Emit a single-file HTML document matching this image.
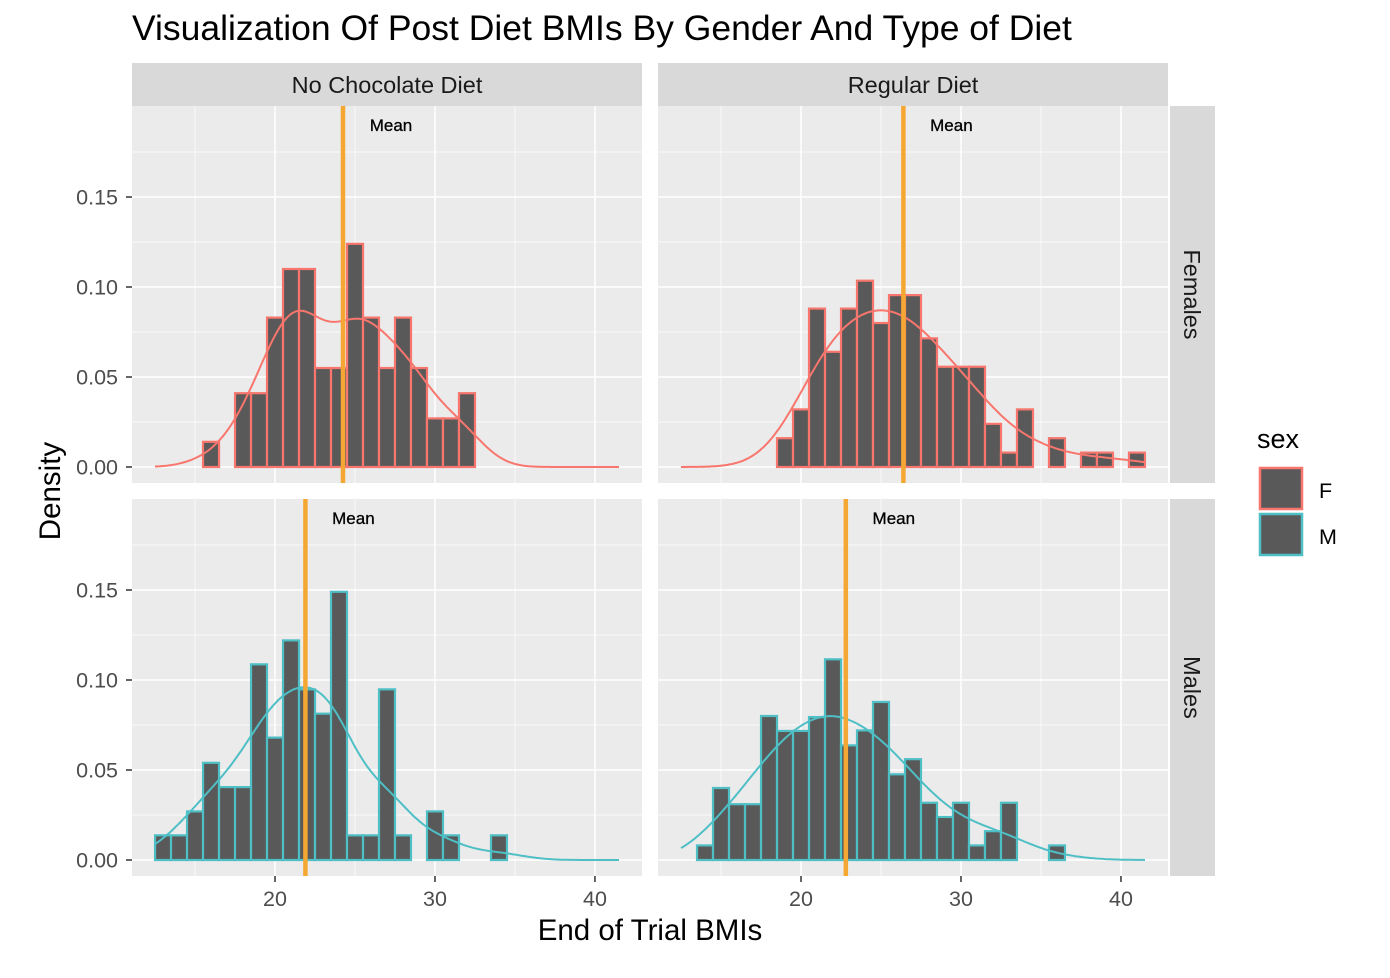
<!DOCTYPE html>
<html><head><meta charset="utf-8">
<style>
html,body{margin:0;padding:0;background:#fff;}
svg{display:block;font-family:"Liberation Sans",Arial,sans-serif;}
</style></head>
<body>
<svg id="chart" width="1390" height="978" viewBox="0 0 1390 978" xmlns="http://www.w3.org/2000/svg">
<text x="132" y="40" font-size="35.5" fill="#000">Visualization Of Post Diet BMIs By Gender And Type of Diet</text>
<text x="650" y="940" font-size="29.5" text-anchor="middle" fill="#000">End of Trial BMIs</text>
<text transform="translate(60,491) rotate(-90)" font-size="29.5" text-anchor="middle" fill="#000">Density</text>
<g id="panels"></g>
<g>
<text x="1257" y="448" font-size="27" fill="#000">sex</text>
<rect x="1260" y="468" width="42" height="41" fill="#595959" stroke="#F8766D" stroke-width="2.5"/>
<text x="1319" y="498" font-size="21.5" fill="#000">F</text>
<rect x="1260" y="514" width="42" height="41" fill="#595959" stroke="#4FBFC6" stroke-width="2.5"/>
<text x="1319" y="544" font-size="21.5" fill="#000">M</text>
</g>
</svg>
<script>
// Data: histogram densities, bin width 1, first bin edge 12.5
const binStart = 12.5;
const binWidth = 1;
const densNoChocF = [0,0,0,0.014,0,0.041,0.041,0.083,0.110,0.110,0.055,0.055,0.124,0.083,0.055,0.083,0.055,0.027,0.027,0.041,0,0,0,0,0,0,0,0,0];
const densRegularF = [0,0,0,0,0,0,0.016,0.032,0.088,0.064,0.088,0.1035,0.080,0.0955,0.0955,0.0715,0.0557,0.0557,0.0557,0.024,0.008,0.032,0,0.016,0,0.008,0.008,0,0.008];
const densNoChocM = [0.0137,0.0137,0.027,0.054,0.0405,0.0405,0.1087,0.068,0.122,0.0948,0.0813,0.149,0.0137,0.0137,0.0948,0.0137,0,0.027,0.0137,0,0,0.0137,0,0,0,0,0,0,0];
const densRegularM = [0,0.0081,0.040,0.031,0.031,0.080,0.0717,0.0717,0.0794,0.1115,0.0637,0.072,0.0878,0.0476,0.056,0.0318,0.0239,0.0318,0.0081,0.016,0.0318,0,0,0.0081,0,0,0,0,0];
const means = [24.25, 26.4, 21.9, 22.8];
const xTicks = [20,30,40];
const yTicks = [0,0.05,0.10,0.15];
const yTickLabels = ["0.00","0.05","0.10","0.15"];
const colLabels = ["No Chocolate Diet","Regular Diet"];
const rowLabels = ["Females","Males"];

const NS="http://www.w3.org/2000/svg";
const root=document.getElementById('panels');
function mk(tag,attrs,parent){const e=document.createElementNS(NS,tag);for(const k in attrs)e.setAttribute(k,attrs[k]);(parent||root).appendChild(e);return e;}

const colX=[132,658], panelW=510;
const rowY=[106,499], panelH=377;
const xMin=11.06, xMax=42.94, pxPerDensity=1800, bottomPad=16;
const panels=[
 {c:0,r:0,d:densNoChocF,col:"#F8766D",name:"no-chocolate-females",bw:1.5},
 {c:1,r:0,d:densRegularF,col:"#F8766D",name:"regular-females",bw:1.9},
 {c:0,r:1,d:densNoChocM,col:"#4FBFC6",name:"no-chocolate-males",bw:1.6},
 {c:1,r:1,d:densRegularM,col:"#4FBFC6",name:"regular-males",bw:1.9}];

panels.forEach((p,pi)=>{
 const x0=colX[p.c], y0=rowY[p.r];
 const sx=v=>x0+(v-xMin)/(xMax-xMin)*panelW;
 const sy=v=>y0+panelH-bottomPad-v*pxPerDensity;
 const g=mk('g',{});
 
 
 const bg=mk('rect',{x:x0,y:y0,width:panelW,height:panelH,fill:'#EBEBEB'},g);
 
 
 [15,25,35].forEach(v=>{const l=mk('line',{x1:sx(v),x2:sx(v),y1:y0,y2:y0+panelH,stroke:'#fff','stroke-width':0.7},g);});
 [0.025,0.075,0.125,0.175].forEach(v=>{const l=mk('line',{x1:x0,x2:x0+panelW,y1:sy(v),y2:sy(v),stroke:'#fff','stroke-width':0.7},g);});
 xTicks.forEach(v=>{const l=mk('line',{x1:sx(v),x2:sx(v),y1:y0,y2:y0+panelH,stroke:'#fff','stroke-width':1.5},g);});
 yTicks.forEach(v=>{const l=mk('line',{x1:x0,x2:x0+panelW,y1:sy(v),y2:sy(v),stroke:'#fff','stroke-width':1.5},g);});
 let firstNZ=p.d.findIndex(v=>v>0), lastNZ=p.d.length-1; while(p.d[lastNZ]===0)lastNZ--;
 for(let i=firstNZ;i<=lastNZ;i++){
  const a=binStart+i*binWidth,b=a+binWidth,v=p.d[i];
  const r=mk('rect',{x:sx(a),y:sy(v),width:sx(b)-sx(a),height:sy(0)-sy(v),fill:'#595959',stroke:p.col,'stroke-width':2.2},g);
  
  
 }
 const bw=p.bw;
 let tot=p.d.reduce((s,v)=>s+v,0);
 let pts=[];
 const lo=12.5, hi=41.5;
 for(let k=0;k<=200;k++){
  const x=lo+(hi-lo)*k/200;let s=0;
  p.d.forEach((v,i)=>{const c=binStart+(i+0.5)*binWidth;s+=v*Math.exp(-0.5*((x-c)/bw)**2)/(bw*Math.sqrt(2*Math.PI));});
  pts.push(sx(x).toFixed(1)+','+sy(s/tot).toFixed(1));
 }
 const pl=mk('polyline',{points:pts.join(' '),fill:'none',stroke:p.col,'stroke-width':2},g);
 
 
 const ml=mk('line',{x1:sx(means[pi]),x2:sx(means[pi]),y1:y0,y2:y0+panelH,stroke:'#F5A733','stroke-width':4.5},g);
 
 
 const mt=mk('text',{x:sx(means[pi]+3),y:y0+25,'font-size':17,'text-anchor':'middle',fill:'#000',stroke:'#000','stroke-width':0.3},g);
 mt.textContent='Mean';
 
 
 if(p.c===0){
  yTicks.forEach((v,i)=>{
   const t=mk('line',{x1:x0-6,x2:x0,y1:sy(v),y2:sy(v),stroke:'#333','stroke-width':1.5},g);
   
   const tl=mk('text',{x:x0-14,y:sy(v)+7.5,'font-size':21.5,'text-anchor':'end',fill:'#4D4D4D'},g);
   tl.textContent=yTickLabels[i];
   
  });
 }
 if(p.r===1){
  xTicks.forEach(v=>{
   const t=mk('line',{x1:sx(v),x2:sx(v),y1:y0+panelH,y2:y0+panelH+6,stroke:'#333','stroke-width':1.5},g);
   
   const tl=mk('text',{x:sx(v),y:y0+panelH+30,'font-size':21.5,'text-anchor':'middle',fill:'#4D4D4D'},g);
   tl.textContent=v;
   
  });
 }
});
colLabels.forEach((lab,i)=>{
 const r=mk('rect',{x:colX[i],y:63,width:panelW,height:43,fill:'#D9D9D9'});
 
 const t=mk('text',{x:colX[i]+panelW/2,y:93,'font-size':23.5,'text-anchor':'middle',fill:'#1A1A1A'});
 t.textContent=lab;
 
});
rowLabels.forEach((lab,i)=>{
 const r=mk('rect',{x:1170,y:rowY[i],width:45,height:panelH,fill:'#D9D9D9'});
 
 const cy=rowY[i]+panelH/2;
 const t=mk('text',{transform:`translate(1184,${cy}) rotate(90)`,'font-size':23.5,'text-anchor':'middle',fill:'#1A1A1A'});
 t.textContent=lab;
 
});
</script>
</body></html>
